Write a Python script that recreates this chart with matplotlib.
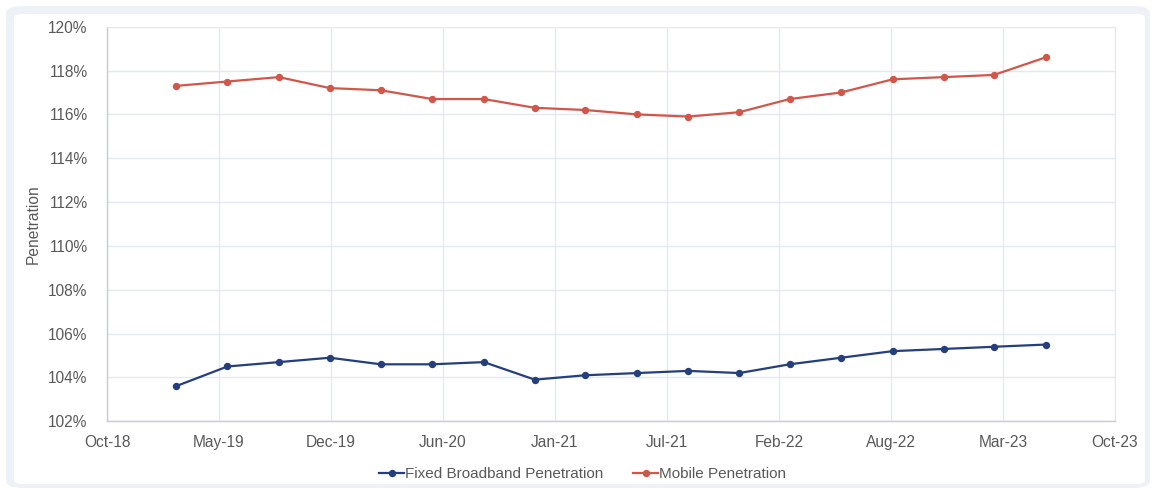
import datetime as dt
import matplotlib
matplotlib.use("Agg")
import matplotlib.pyplot as plt
import matplotlib.dates as mdates
from matplotlib.patches import FancyBboxPatch
from matplotlib.ticker import FuncFormatter, MultipleLocator

# Quarterly observations, March 2019 - June 2023
periods = ["2019-03", "2019-06", "2019-09", "2019-12",
           "2020-03", "2020-06", "2020-09", "2020-12",
           "2021-03", "2021-06", "2021-09", "2021-12",
           "2022-03", "2022-06", "2022-09", "2022-12",
           "2023-03", "2023-06"]
fixed_broadband = [103.6, 104.5, 104.7, 104.9, 104.6, 104.6, 104.7, 103.9,
                   104.1, 104.2, 104.3, 104.2, 104.6, 104.9, 105.2, 105.3,
                   105.4, 105.5]
mobile = [117.3, 117.5, 117.7, 117.2, 117.1, 116.7, 116.7, 116.3,
          116.2, 116.0, 115.9, 116.1, 116.7, 117.0, 117.6, 117.7,
          117.8, 118.6]
series_names = ["Fixed Broadband Penetration", "Mobile Penetration"]
y_label = "Penetration"

plt.rcParams["font.family"] = ["Liberation Sans", "DejaVu Sans"]

dates = [dt.datetime.strptime(p + "-01", "%Y-%m-%d") for p in periods]

# date axis: 200-day major unit starting late Oct 2018
axis_start = dt.datetime(2018, 10, 29)
tick_step_days = 200
n_ticks = 10
tick_dates = [axis_start + dt.timedelta(days=tick_step_days * i) for i in range(n_ticks)]

W, H = 1156, 491
fig = plt.figure(figsize=(W / 100, H / 100), dpi=100)
fig.patch.set_facecolor("white")

# card frame
outer = FancyBboxPatch((6 / W, 3 / H), (1144) / W, (482) / H,
                       boxstyle="round,pad=0,rounding_size=0.015",
                       transform=fig.transFigure, facecolor="#eef1f6",
                       edgecolor="none", zorder=-2)
inner = FancyBboxPatch((14 / W, 7 / H), (1131) / W, (470) / H,
                       boxstyle="round,pad=0,rounding_size=0.008",
                       transform=fig.transFigure, facecolor="white",
                       edgecolor="none", zorder=-1)
fig.patches.extend([outer, inner])

left, right, top, bottom = 107, 1115, 26.7, 421.3
ax = fig.add_axes([left / W, (H - bottom) / H, (right - left) / W, (bottom - top) / H])
ax.set_facecolor("white")

navy = "#253f7e"
red = "#d2574a"
ax.plot(dates, fixed_broadband, color=navy, lw=1.6, marker="o", ms=4.3,
        label=series_names[0], zorder=3)
ax.plot(dates, mobile, color=red, lw=1.6, marker="o", ms=4.3,
        label=series_names[1], zorder=3)

ax.set_xlim(tick_dates[0], tick_dates[-1])
ax.set_xticks(tick_dates)
ax.xaxis.set_major_formatter(mdates.DateFormatter("%b-%y"))
ax.set_ylim(102, 120)
ax.yaxis.set_major_locator(MultipleLocator(2))
ax.yaxis.set_major_formatter(FuncFormatter(lambda v, _: f"{v:.0f}%"))

ax.grid(True, color="#e4e8f1", lw=1.0)
ax.set_axisbelow(True)
for s in ["top", "right"]:
    ax.spines[s].set_color("#e4e8f1")
for s in ["left", "bottom"]:
    ax.spines[s].set_color("#c9cbd9")
    ax.spines[s].set_linewidth(1.0)
ax.tick_params(length=0, labelsize=11.2, colors="#595959")
ax.tick_params(axis="x", pad=10)
ax.tick_params(axis="y", pad=14)

ax.set_ylabel(y_label, fontsize=11.2, color="#595959", labelpad=5)

leg = ax.legend(loc="upper center", bbox_to_anchor=(0.472, -0.082), ncol=2,
                frameon=False, fontsize=11, handlelength=1.6, handletextpad=0.1,
                columnspacing=1.95, labelcolor="#595959")

fig.savefig("out.png", dpi=100, facecolor="white")
